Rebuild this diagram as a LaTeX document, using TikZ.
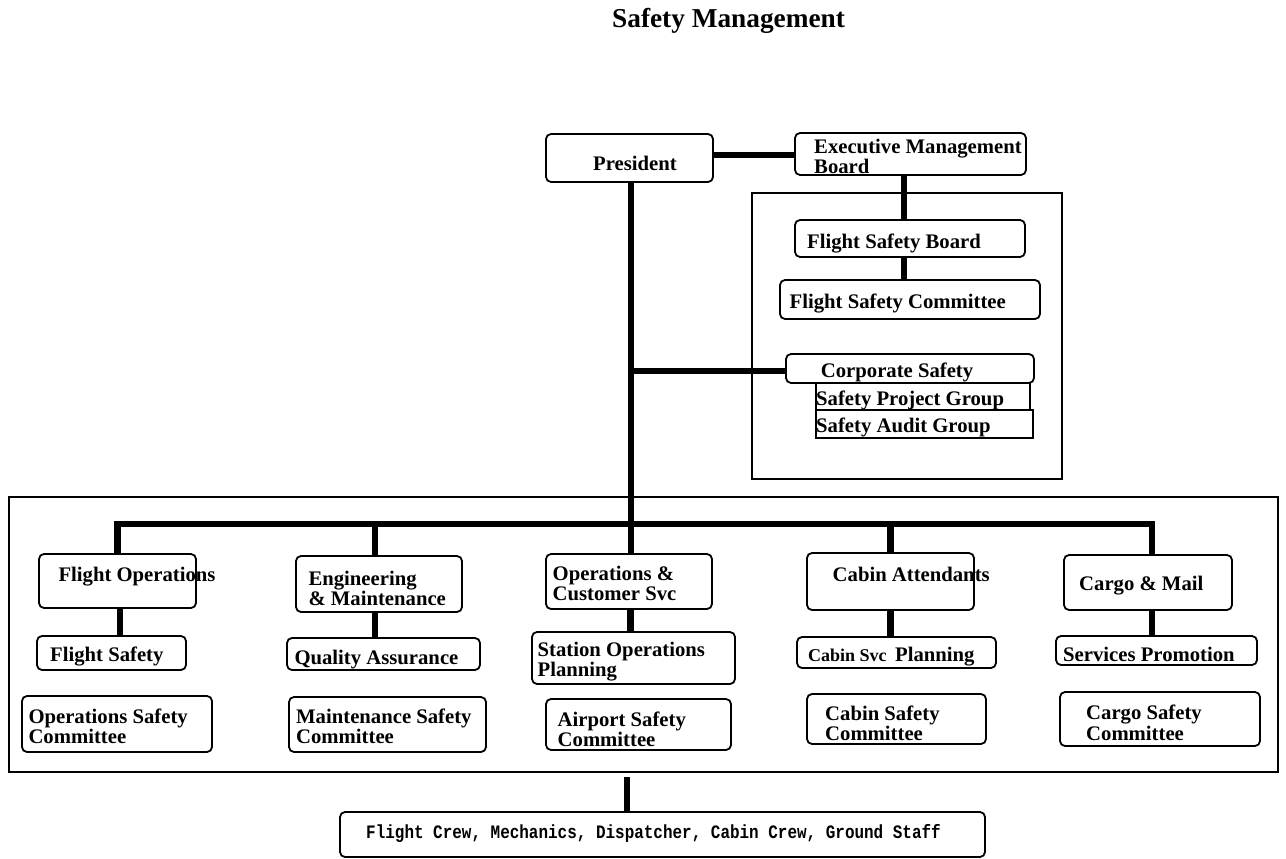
\documentclass[tikz,border=0pt]{standalone}
\usepackage{fontspec}
\setmainfont{Liberation Serif}
\newfontfamily\crewfont[FakeStretch=0.84]{Liberation Mono}
\usetikzlibrary{fit}
\tikzset{
  box/.style={draw, line width=1.8pt, rounded corners=5pt, inner sep=0pt},
  sbox/.style={draw, line width=1.8pt, inner sep=0pt},
  frame/.style={draw, line width=1.6pt, inner sep=0pt},
  conn/.style={line width=6.5pt},
  txt/.style={anchor=base west, inner sep=0pt, font=\bfseries\fontsize{20.7}{20.5}\selectfont},
  small/.style={anchor=base west, inner sep=0pt, font=\bfseries\fontsize{18}{18}\selectfont},
  ttl/.style={anchor=base west, inner sep=0pt, font=\bfseries\fontsize{27.3}{30}\selectfont},
  crewtxt/.style={anchor=base west, inner sep=0pt, font=\crewfont\bfseries\fontsize{19}{20}\selectfont},
}
\newcommand{\twol}[2]{\begin{tabular}[t]{@{}l@{}}#1\\#2\end{tabular}}
\begin{document}
\begin{tikzpicture}[x=1pt,y=-1pt]
\useasboundingbox (0,0) rectangle (1286,859);

% title
\node[ttl] (title) at (612,28) {Safety Management};

% frames
\node[frame, fit={(752,193) (1062,479)}] (rframe) {};
\node[frame, fit={(9,497) (1278,772)}] (bframe) {};

% boxes
\node[box, fit={(546,134) (713,182)}] (pres) {};
\node[box, fit={(795,133) (1026,175)}] (emb) {};
\node[box, fit={(795,220) (1025,257)}] (fsb) {};
\node[box, fit={(780,280) (1040,319)}] (fsc) {};
\node[box, fit={(786,354) (1034,383)}] (cs) {};
\node[sbox, fit={(816,383) (1030,410)}] (spg) {};
\node[sbox, fit={(816,410) (1033,438)}] (sag) {};

\node[box, fit={(39,554) (196,608)}] (fo) {};
\node[box, fit={(37,636) (186,670)}] (fs) {};
\node[box, fit={(22,696) (212,752)}] (osc) {};
\node[box, fit={(296,556) (462,612)}] (em) {};
\node[box, fit={(287,638) (480,670)}] (qa) {};
\node[box, fit={(289,697) (486,752)}] (msc) {};
\node[box, fit={(546,554) (712,609)}] (ocs) {};
\node[box, fit={(532,632) (735,684)}] (sop) {};
\node[box, fit={(546,699) (731,750)}] (asc) {};
\node[box, fit={(807,553) (974,610)}] (ca) {};
\node[box, fit={(797,637) (996,668)}] (csp) {};
\node[box, fit={(807,694) (986,744)}] (csc) {};
\node[box, fit={(1064,555) (1232,610)}] (cm) {};
\node[box, fit={(1056,636) (1257,665)}] (sp) {};
\node[box, fit={(1060,692) (1260,746)}] (cgsc) {};
\node[box, fit={(340,812) (985,857)}] (crew) {};

% connectors
\draw[conn] ([yshift=3pt]pres.east) -- ([yshift=3pt]pres.east -| emb.west);
\draw[conn] ([xshift=-6.5pt]emb.south) -- ([xshift=-6.5pt]emb.south |- fsb.north);
\draw[conn] ([xshift=-6pt]fsb.south) -- ([xshift=-6pt]fsb.south |- fsc.north);
\draw[conn] ([xshift=1.5pt]pres.south) -- ([xshift=1.5pt]pres.south |- ocs.north);
\draw[conn] ([yshift=-2.5pt]cs.west) -- ([yshift=-2.5pt]cs.west -| pres.south);
\coordinate (busL) at (117.5,524);
\coordinate (busR) at (1152,524);
\draw[conn, line cap=rect] (busL) -- (busR);
\draw[conn] (fo.north) -- (fo.north |- busL);
\draw[conn] ([xshift=-4pt]em.north) -- ([xshift=-4pt]em.north |- busL);
\draw[conn] (ca.north) -- (ca.north |- busL);
\draw[conn] ([xshift=4pt]cm.north) -- ([xshift=4pt]cm.north |- busL);
\draw[conn] ([xshift=2.5pt]fo.south) -- ([xshift=2.5pt]fo.south |- fs.north);
\draw[conn] ([xshift=-4pt]em.south) -- ([xshift=-4pt]em.south |- qa.north);
\draw[conn] ([xshift=1.5pt]ocs.south) -- ([xshift=1.5pt]ocs.south |- sop.north);
\draw[conn] (ca.south) -- (ca.south |- csp.north);
\draw[conn] ([xshift=4pt]cm.south) -- ([xshift=4pt]cm.south |- sp.north);
\coordinate (crewtop) at (627,777);
\draw[line width=5.5pt] (crewtop) -- (crewtop |- crew.north);

% texts
\node[txt] (t-pres) at (593,170) {President};
\node[txt] (t-emb) at (814,153) {\twol{Executive Management}{Board}};
\node[txt] (t-fsb) at (807,248) {Flight Safety Board};
\node[txt] (t-fsc) at (789.5,308.6) {Flight Safety Committee};
\node[txt] (t-cs) at (820.7,377) {Corporate Safety};
\node[txt] (t-spg) at (816,405) {Safety Project Group};
\node[txt] (t-sag) at (816,432.7) {Safety Audit Group};

\node[txt] (t-fo) at (58.3,581.7) {Flight Operations};
\node[txt] (t-fs) at (50,661.7) {Flight Safety};
\node[txt] (t-osc) at (28.3,723.3) {\twol{Operations Safety}{Committee}};
\node[txt] (t-em) at (308.3,585) {\twol{Engineering}{\& Maintenance}};
\node[txt] (t-qa) at (294.3,664) {Quality Assurance};
\node[txt] (t-msc) at (296,723.3) {\twol{Maintenance Safety}{Committee}};
\node[txt] (t-ocs) at (552.5,580) {\twol{Operations \&}{Customer Svc}};
\node[txt] (t-sop) at (537.5,656) {\twol{Station Operations}{Planning}};
\node[txt] (t-asc) at (557.5,726) {\twol{Airport Safety}{Committee}};
\node[txt] (t-ca) at (832.5,581.7) {Cabin Attendants};
\node[small] (t-csp1) at (808,661.7) {Cabin Svc};
\node[txt] (t-csp2) at (895,661.7) {Planning};
\node[txt] (t-csc) at (825,720) {\twol{Cabin Safety}{Committee}};
\node[txt] (t-cm) at (1079,590) {Cargo \& Mail};
\node[txt] (t-sp) at (1063,661.7) {Services Promotion};
\node[txt] (t-cgsc) at (1086,719.5) {\twol{Cargo Safety}{Committee}};
\node[crewtxt] (t-crew) at (366,838.3) {Flight Crew, Mechanics, Dispatcher, Cabin Crew, Ground Staff};
\end{tikzpicture}
\end{document}
